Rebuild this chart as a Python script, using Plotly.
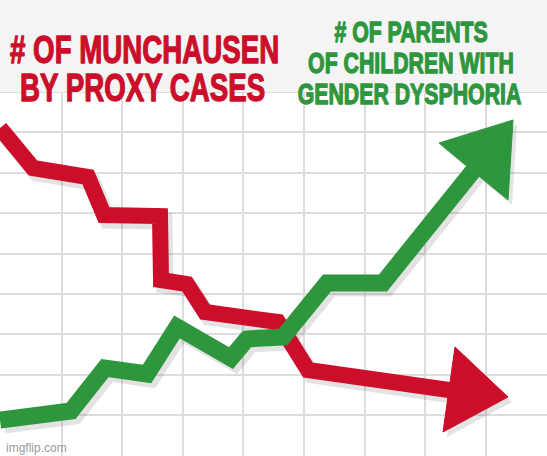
import plotly.graph_objects as go

# red series: munchausen by proxy cases (shaft + arrow head)
red_x = [0, 33, 88, 104, 160, 161, 187, 205, 278, 308, 449]
red_y = [128, 168, 177, 215, 216, 280, 284, 312, 322, 370, 390]
red_head_x = [455, 508, 443]
red_head_y = [347, 397, 432]

# green series: parents of children with gender dysphoria
green_x = [0, 71, 105, 147, 177, 231, 247, 283, 327, 383, 473]
green_y = [420, 411, 368, 374, 327, 358, 339, 337, 283, 283, 171]
green_head_x = [439, 513, 508]
green_head_y = [143, 120, 200]

red_lines = ['# OF MUNCHAUSEN', 'BY PROXY CASES']
green_lines = ['# OF PARENTS', 'OF CHILDREN WITH', 'GENDER DYSPHORIA']

RED = '#cc0e2a'
GREEN = '#2e963d'
SHADOW = 'rgba(80,80,80,0.16)'
FONT = 'Liberation Sans, Arial, sans-serif'

fig = go.Figure()

# ombres legeres
for xs, ys, hx, hy in [(red_x, red_y, red_head_x, red_head_y),
                       (green_x, green_y, green_head_x, green_head_y)]:
    fig.add_trace(go.Scatter(x=[v + 4 for v in xs], y=[v + 5 for v in ys], mode='lines',
                             line=dict(color=SHADOW, width=17), hoverinfo='skip'))
    fig.add_trace(go.Scatter(x=[v + 4 for v in hx + hx[:1]], y=[v + 5 for v in hy + hy[:1]],
                             mode='lines', fill='toself', fillcolor=SHADOW,
                             line=dict(color='rgba(0,0,0,0)', width=0), hoverinfo='skip'))

# rouge
fig.add_trace(go.Scatter(x=red_x, y=red_y, mode='lines', line=dict(color=RED, width=16)))
fig.add_trace(go.Scatter(x=red_head_x + red_head_x[:1], y=red_head_y + red_head_y[:1],
                         mode='lines', fill='toself', fillcolor=RED, line=dict(color=RED, width=1)))
# vert (par dessus)
fig.add_trace(go.Scatter(x=green_x, y=green_y, mode='lines', line=dict(color=GREEN, width=17)))
fig.add_trace(go.Scatter(x=green_head_x + green_head_x[:1], y=green_head_y + green_head_y[:1],
                         mode='lines', fill='toself', fillcolor=GREEN, line=dict(color=GREEN, width=1)))

# bandeau gris en haut
fig.add_shape(type='rect', x0=0, x1=547, y0=0, y1=92, xref='x', yref='y',
              fillcolor='#f3f4f3', line=dict(width=0), layer='between')

annotations = []
for txt, x, y in zip(red_lines, [144, 142], [49, 87]):
    annotations.append(dict(text=txt, x=x, y=y, xref='x', yref='y', showarrow=False,
                            xanchor='center', yanchor='middle',
                            font=dict(family=FONT, size=39, color=RED, weight='bold')))
for txt, x, y in zip(green_lines, [411, 411, 409], [31, 62, 93]):
    annotations.append(dict(text=txt, x=x, y=y, xref='x', yref='y', showarrow=False,
                            xanchor='center', yanchor='middle',
                            font=dict(family=FONT, size=30, color=GREEN, weight='bold')))
annotations.append(dict(text='imgflip.com', x=4, y=448, xref='x', yref='y', showarrow=False,
                        xanchor='left', yanchor='middle',
                        font=dict(family='Liberation Sans, Arial, sans-serif', size=12, color='#9a9a9a')))

fig.update_layout(
    width=547,
    height=456,
    margin=dict(l=0, r=0, t=0, b=0),
    showlegend=False,
    plot_bgcolor='white',
    paper_bgcolor='white',
    annotations=annotations,
    xaxis=dict(range=[0, 547], showgrid=True, gridcolor='#dcdcdc', gridwidth=1.5,
               tick0=1, dtick=60.6, showticklabels=False, zeroline=False, fixedrange=True),
    yaxis=dict(range=[456, 0], showgrid=True, gridcolor='#dcdcdc', gridwidth=1.5,
               tick0=92, dtick=40.4, showticklabels=False, zeroline=False, fixedrange=True),
)

# pas de marge de page + titres condenses et epaissis (style Impact)
post = """
document.body.style.margin = '0';
var gd = document.getElementById('{plot_id}');
gd.querySelectorAll('.annotation-text').forEach(function(t){
  if (t.textContent === 'imgflip.com') return;
  var b = t.getBBox();
  var cx = b.x + b.width / 2;
  t.setAttribute('transform', 'translate(' + cx + ',0) scale(0.71,1) translate(' + (-cx) + ',0)');
  t.style.stroke = t.style.fill;
  t.style.strokeWidth = '1.3px';
  t.style.strokeLinejoin = 'round';
});
"""

fig.write_html("out.html", config={'displayModeBar': False}, post_script=post)
